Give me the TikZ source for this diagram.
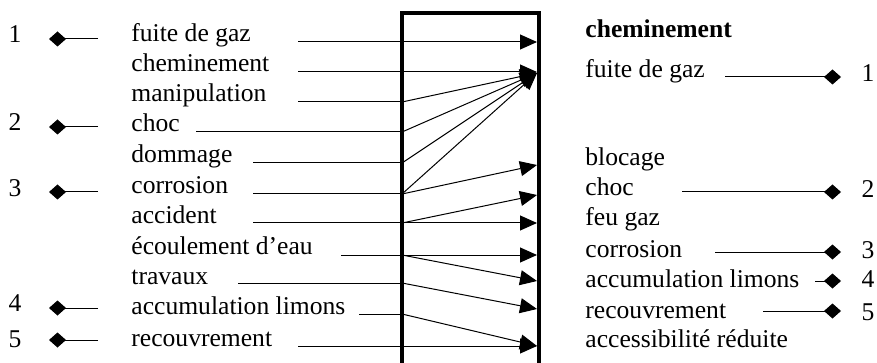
\documentclass[tikz,border=0pt]{standalone}
\usepackage{fontspec}
\setmainfont{Liberation Serif}
\usetikzlibrary{arrows.meta}

\begin{document}
\begin{tikzpicture}[x=0.5pt, y=-0.5pt, font=\fontsize{12.8}{15}\selectfont,
    lbl/.style={anchor=base west, inner sep=0pt},
    num/.style={anchor=base, inner sep=0pt},
    fleche/.style={line width=0.5pt, -{Triangle[length=8.5pt, width=7.5pt]}},
    trait/.style={line width=0.5pt},
    losange/.style={line width=0.5pt, -{Diamond[length=8.5pt, width=7.5pt]}}]
    \useasboundingbox (0,0) rectangle (877,363);
    % le cadre
    \draw[line width=1.6pt] (402,363) -- (402,13) -- (539,13) -- (539,363);
    % colonne de gauche
    \node[lbl] (g1) at (131,42) {fuite de gaz};
    \node[lbl] (g2) at (131,72) {cheminement};
    \node[lbl] (g3) at (131,102) {manipulation};
    \node[lbl] (g4) at (131,132) {choc};
    \node[lbl] (g5) at (131,163) {dommage};
    \node[lbl] (g6) at (131,194) {corrosion};
    \node[lbl] (g7) at (131,223) {accident};
    \node[lbl] (g8) at (131,255) {écoulement d’eau};
    \node[lbl] (g9) at (131,284) {travaux};
    \node[lbl] (g10) at (131,314) {accumulation limons};
    \node[lbl] (g11) at (131,346) {recouvrement};
    % numeros a gauche
    \node[num] (n1) at (15,43) {1};
    \node[num] (n2) at (15,131) {2};
    \node[num] (n3) at (15,197) {3};
    \node[num] (n4) at (15,311) {4};
    \node[num] (n5) at (15,347) {5};
    \coordinate (q1) at (98,39);  \coordinate (p1) at (49,39);
    \coordinate (q2) at (98,127); \coordinate (p2) at (49,127);
    \coordinate (q3) at (98,192); \coordinate (p3) at (49,192);
    \coordinate (q4) at (98,308); \coordinate (p4) at (49,308);
    \coordinate (q5) at (98,340); \coordinate (p5) at (49,340);
    \draw[losange] (q1) -- (p1);
    \draw[losange] (q2) -- (p2);
    \draw[losange] (q3) -- (p3);
    \draw[losange] (q4) -- (p4);
    \draw[losange] (q5) -- (p5);
    % departs des traits et entrees dans le cadre
    \coordinate (s1) at (298,42);
    \coordinate (s2) at (298,72);
    \coordinate (s3) at (298,102);  \coordinate (e3) at (402,102);
    \coordinate (s4) at (196,132);  \coordinate (e4) at (402,132);
    \coordinate (s5) at (253,163);  \coordinate (e5) at (402,163);
    \coordinate (s6) at (253,194);  \coordinate (e6) at (402,194);
    \coordinate (s7) at (253,223);  \coordinate (e7) at (402,223);
    \coordinate (s8) at (341,255);  \coordinate (e8) at (402,255);
    \coordinate (s9) at (238,283);  \coordinate (e9) at (402,283);
    \coordinate (s10) at (359,314); \coordinate (e10) at (402,314);
    \coordinate (s11) at (298,346);
    % pointes sur le bord droit
    \coordinate (ta) at (537,42);
    \coordinate (tb) at (537,73);
    \coordinate (tc) at (537,165);
    \coordinate (td) at (537,195);
    \coordinate (te) at (537,223);
    \coordinate (tf) at (537,255);
    \coordinate (tg) at (537,281);
    \coordinate (th) at (537,309);
    \coordinate (ti) at (537,346);
    \draw[fleche] (s1) -- (ta);
    \draw[fleche] (s2) -- (537,72);
    \draw[trait] (s3) -- (e3); \draw[fleche] (e3) -- (tb);
    \draw[trait] (s4) -- (e4); \draw[fleche] (e4) -- (tb);
    \draw[trait] (s5) -- (e5); \draw[fleche] (e5) -- (tb);
    \draw[trait] (s6) -- (e6); \draw[fleche] (e6) -- (tb); \draw[fleche] (e6) -- (tc);
    \draw[trait] (s7) -- (e7); \draw[fleche] (e7) -- (td); \draw[fleche] (e7) -- (te);
    \draw[trait] (s8) -- (e8); \draw[fleche] (e8) -- (tf); \draw[fleche] (e8) -- (tg);
    \draw[trait] (s9) -- (e9); \draw[fleche] (e9) -- (th);
    \draw[trait] (s10) -- (e10); \draw[fleche] (e10) -- (ti);
    \draw[fleche] (s11) -- (ti);
    % colonne de droite
    \node[lbl, font=\fontsize{12.8}{15}\selectfont\bfseries] (titre) at (585,38) {cheminement};
    \node[lbl] (d1) at (585,78) {fuite de gaz};
    \node[lbl] (d2) at (585,166) {blocage};
    \node[lbl] (d3) at (585,196) {choc};
    \node[lbl] (d4) at (585,226) {feu gaz};
    \node[lbl] (d5) at (585,257) {corrosion};
    \node[lbl] (d6) at (585,287) {accumulation limons};
    \node[lbl] (d7) at (585,318) {recouvrement};
    \node[lbl] (d8) at (585,347) {accessibilité réduite};
    \node[num] (m1) at (868,82) {1};
    \node[num] (m2) at (868,198) {2};
    \node[num] (m3) at (868,258) {3};
    \node[num] (m4) at (868,287) {4};
    \node[num] (m5) at (868,320) {5};
    \coordinate (u1) at (725,77);  \coordinate (v1) at (841,77);
    \coordinate (u2) at (682,192); \coordinate (v2) at (841,192);
    \coordinate (u3) at (715,252); \coordinate (v3) at (841,252);
    \coordinate (u4) at (815,281); \coordinate (v4) at (841,281);
    \coordinate (u5) at (763,311); \coordinate (v5) at (841,311);
    \draw[losange] (u1) -- (v1);
    \draw[losange] (u2) -- (v2);
    \draw[losange] (u3) -- (v3);
    \draw[losange] (u4) -- (v4);
    \draw[losange] (u5) -- (v5);
\end{tikzpicture}
\end{document}
